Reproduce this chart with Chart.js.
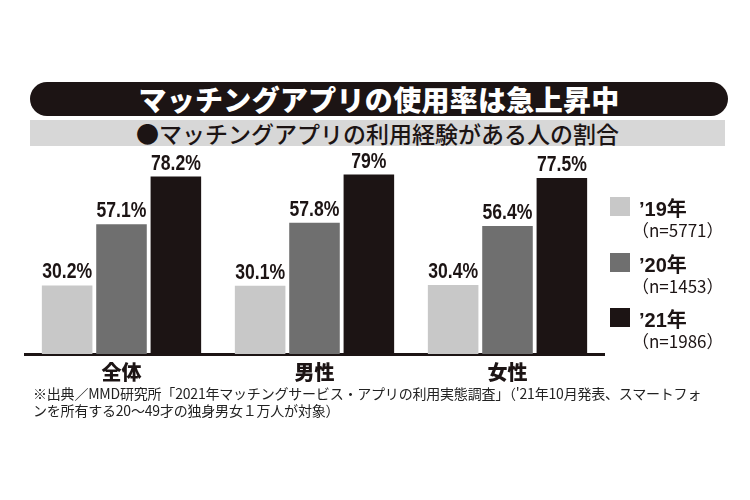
<!DOCTYPE html>
<html lang="ja">
<head>
<meta charset="utf-8">
<script src="https://cdn.jsdelivr.net/npm/chart.js@4/dist/chart.umd.min.js"></script>
<style>
  html, body { margin:0; padding:0; background:#fff; }
  body { width:750px; height:500px; position:relative; overflow:hidden;
         font-family:"Noto Sans CJK JP", "Noto Sans", sans-serif; color:#1c1414; }
  .title { position:absolute; left:30px; top:82px; width:698px; height:34px;
           background:#1c1414; border-radius:17px; color:#fff; text-align:center;
           font-size:28px; font-weight:900; line-height:34px; letter-spacing:0.3px; }
  .sub { position:absolute; left:30px; top:120px; width:695px; height:26px;
         background:#d7d7d7; text-align:center; font-size:23px; font-weight:500;
         line-height:26px; }
  #wrap { position:absolute; left:0; top:150px; width:750px; height:240px; }
  .legend { position:absolute; left:610px; top:197px; }
  .lg-row { position:relative; height:55.5px; }
  .lg-box { position:absolute; left:0; top:0; width:20px; height:19px; }
  .lg-year { position:absolute; left:29px; top:-4px; font-size:20px; font-weight:700;
             white-space:nowrap; font-family:"Liberation Sans", "Noto Sans CJK JP", sans-serif; }
  .lg-n { position:absolute; left:22px; top:20px; font-size:17px; white-space:nowrap; }
  .note { position:absolute; left:33px; top:385px; font-size:14px; line-height:17px;
          color:#222; white-space:nowrap; letter-spacing:-0.2px; }
</style>
</head>
<body>
<div class="title">マッチングアプリの使用率は急上昇中</div>
<div class="sub">●マッチングアプリの利用経験がある人の割合</div>
<div id="wrap"><canvas id="chart" width="750" height="240"></canvas></div>
<div class="legend" id="legend"></div>
<div class="note">※出典／MMD研究所「2021年マッチングサービス・アプリの利用実態調査」（'21年10月発表、スマートフォ<br>ンを所有する20～49才の独身男女１万人が対象）</div>

<script>
/* ─── Data ────────────────────────────────────────────────────────────── */
const categories  = ["全体", "男性", "女性"];
const seriesNames = ["’19年", "’20年", "’21年"];
const sampleSizes = ["（n=5771）", "（n=1453）", "（n=1986）"];
const values19 = [30.2, 30.1, 30.4];
const values20 = [57.1, 57.8, 56.4];
const values21 = [78.2, 79, 77.5];
const colors   = ["#c8c8c8", "#6f6f6f", "#1c1414"];

/* ─── Legend ──────────────────────────────────────────────────────────── */
document.getElementById("legend").innerHTML = seriesNames.map((name, i) => `
  <div class="lg-row">
    <div class="lg-box" style="background:${colors[i]}"></div>
    <div class="lg-year">${name}</div>
    <div class="lg-n">${sampleSizes[i]}</div>
  </div>`).join("");

/* ─── Value labels above bars (condensed look) ───────────────────────── */
const SQUEEZE = 0.8;
const valueLabels = {
  id: "valueLabels",
  afterDatasetsDraw(chart) {
    const ctx = chart.ctx;
    chart.data.datasets.forEach((ds, di) => {
      chart.getDatasetMeta(di).data.forEach((bar, i) => {
        ctx.save();
        ctx.translate(bar.x, bar.y - 2);
        ctx.scale(SQUEEZE, 1);
        ctx.fillStyle = "#1c1414";
        ctx.font = "bold 22px 'Liberation Sans', 'DejaVu Sans', sans-serif";
        ctx.textAlign = "center";
        ctx.textBaseline = "bottom";
        ctx.fillText(ds.data[i] + "%", 0, 0);
        ctx.restore();
      });
    });
  },
};

/* ─── Chart ───────────────────────────────────────────────────────────── */
const chart = new Chart(document.getElementById("chart").getContext("2d"), {
  type: "bar",
  data: {
    labels: categories,
    datasets: [values19, values20, values21].map((vals, i) => ({
      label: seriesNames[i],
      data: vals,
      backgroundColor: colors[i],
      borderWidth: 0,
      categoryPercentage: 0.845,
      barPercentage: 0.93,
    })),
  },
  options: {
    responsive: false, animation: false,
    layout: { padding: { left: 25, right: 146, top: 11, bottom: 0 } },
    plugins: { legend: { display: false }, tooltip: { enabled: false } },
    scales: {
      x: {
        grid: { display: false, drawTicks: false },
        border: { display: true, color: "#1c1414", width: 3 },
        ticks: {
          color: "#1c1414", padding: 6,
          font: { family: "'Noto Sans CJK JP', sans-serif", size: 20, weight: "900" },
        },
      },
      y: { display: false, min: 0, max: 85 },
    },
  },
  plugins: [valueLabels],
});
</script>
</body>
</html>
